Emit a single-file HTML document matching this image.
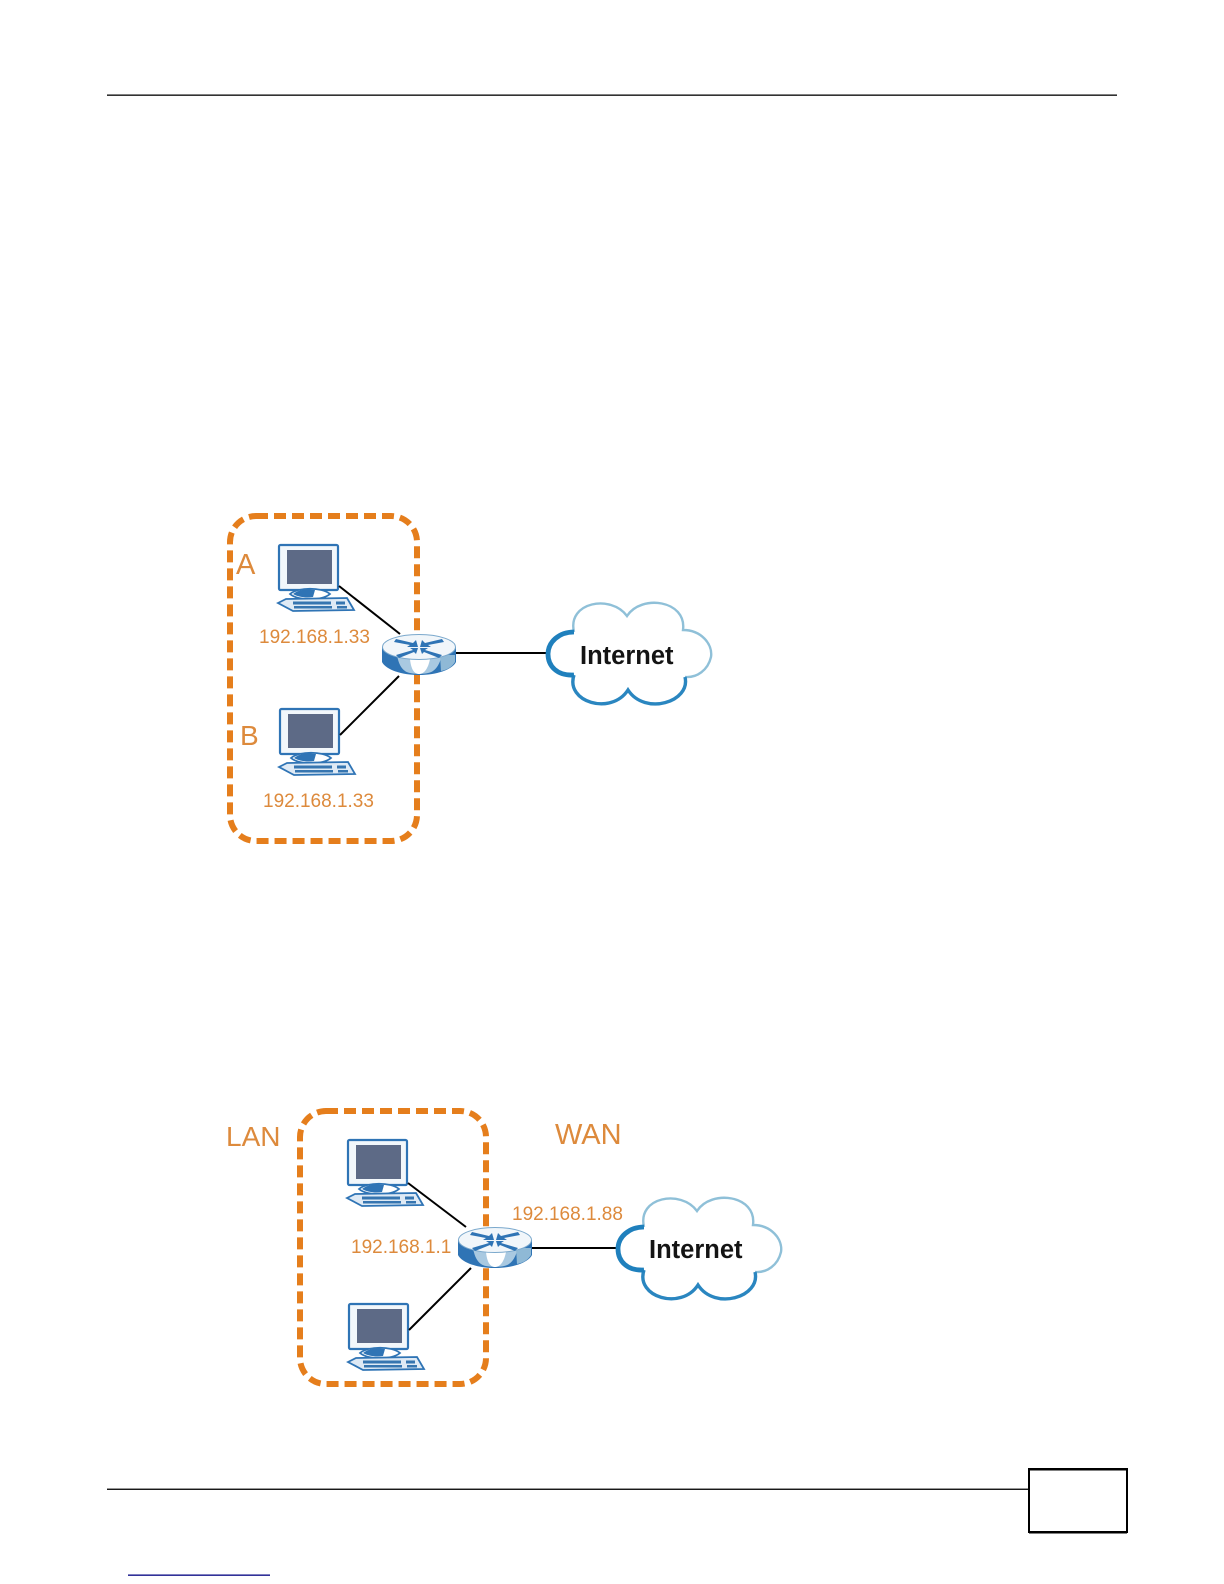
<!DOCTYPE html>
<html>
<head>
<meta charset="utf-8">
<style>
html,body{margin:0;padding:0;background:#fff;width:1224px;height:1584px;overflow:hidden}
svg{display:block}
.d{filter:blur(.35px)}
.o{font-family:"Liberation Sans",sans-serif;fill:#dd8a3c}
.b{font-family:"Liberation Sans",sans-serif;font-weight:bold;font-size:25.5px;fill:#141414}
</style>
</head>
<body>
<svg width="1224" height="1584" viewBox="0 0 1224 1584" xmlns="http://www.w3.org/2000/svg">
<defs>
<g id="pc">
  <rect x="1" y="1" width="59" height="45" rx="1.5" fill="#f2f7fb" stroke="#2f74b5" stroke-width="2.2"/>
  <rect x="9" y="6" width="45" height="34" fill="#5d6a86"/>
  <path d="M12 50 C20 43,44 43,52 50 C44 57,20 57,12 50Z" fill="#fff" stroke="#2f74b5" stroke-width="1.8"/>
  <path d="M15 50 C21 45,30 45,37 46 L35 53 C27 54,20 53,15 50Z" fill="#2f74b5"/>
  <path d="M0 59 L8 55 L69 54 L76 66 L15 67Z" fill="#dfeaf5" stroke="#2f74b5" stroke-width="1.8"/>
  <path d="M15 57.5 H53 V60.5 H15Z M16 62 H54 V64.5 H16Z M58 57.5 H67 V60.5 H58Z M59 62 H69 V64.5 H59Z" fill="#3675b0"/>
</g>
<g id="router">
  <path d="M0 12 V27 C4 35,20 40,37 40 C54 40,70 35,74 27 V12Z" fill="#2f74b5"/>
  <path d="M15 20 C17 32,22 37,28 38 C33 39,42 39,46 38 C52 37,57 32,60 20Z" fill="#a9c9e1"/>
  <path d="M28 24 C29 34,32 39,37 39 C42 39,46 34,48 24Z" fill="#fff"/>
  <path d="M58 20 H73 V27 C70 32,65 35,59 36Z" fill="#8fb9d6"/>
  <ellipse cx="37" cy="12" rx="36.5" ry="12.5" fill="#f1f6fa" stroke="#7aa8cc" stroke-width="1"/>
  <path d="M14 4 L31 8 L34 5 L36 12 L25 12 L28 10 L12 7Z M60 4 L43 8 L40 5 L38 12 L49 12 L46 10 L62 7Z M14 20 L31 15 L28 13 L36 13 L34 19 L32 17 L17 23Z M60 20 L43 15 L46 13 L38 13 L40 19 L42 17 L57 23Z" fill="#2f74b5"/>
</g>
<g id="cloud">
  <path d="M29 30 C22 0,66 -8,82 14 C96 -8,142 -2,138 28 C156 28,168 42,166 55 C163 68,152 76,140 75 C146 100,100 114,83 88 C66 114,20 100,29 73 C12 74,3 64,3 52 C3 40,14 30,29 30Z" fill="#fff"/>
  <path d="M29 30 C22 0,66 -8,82 14 C96 -8,142 -2,138 28 C156 28,168 42,166 55 C163 68,152 76,140 75" fill="none" stroke="#8fc0d8" stroke-width="2.4"/>
  <path d="M140 75 C146 100,100 114,83 88 C66 114,20 100,29 73" fill="none" stroke="#2a86c0" stroke-width="3.4"/>
  <path d="M29 73 C12 74,3 64,3 52 C3 40,14 30,29 30" fill="none" stroke="#1f80bd" stroke-width="4.8"/>
</g>
</defs>

<!-- header and footer rules -->
<rect x="107" y="94.5" width="1010" height="1.3" fill="#000"/>
<rect x="107" y="1488.6" width="922" height="1.3" fill="#000"/>
<rect x="1029" y="1469" width="98" height="63" fill="#fff" stroke="#000" stroke-width="2"/>
<rect x="1029" y="1468" width="98" height="2.5" fill="#000"/>
<rect x="1029" y="1531" width="98" height="2.5" fill="#000"/>
<rect x="128" y="1574.5" width="142" height="1.3" fill="#000080"/>

<!-- diagram 1 -->
<g class="d">
<rect x="230" y="516" width="187" height="325" rx="26" fill="none" stroke="#e57e1c" stroke-width="6" stroke-dasharray="12 6"/>
<use href="#pc" x="278" y="544"/>
<use href="#pc" x="279" y="708"/>
<path d="M339 586 L400 634 M340 735 L399 676 M450 653 H548" stroke="#000" stroke-width="2" fill="none"/>
<use href="#router" x="382" y="635"/>
<use href="#cloud" x="545" y="602"/>
<text class="b" x="580" y="664">Internet</text>
<text class="o" x="236" y="574" font-size="29">A</text>
<text class="o" x="240" y="745" font-size="28">B</text>
<text class="o" x="259" y="643" font-size="19">192.168.1.33</text>
<text class="o" x="263" y="807" font-size="19">192.168.1.33</text>

<!-- diagram 2 -->
<rect x="300" y="1111" width="186" height="273" rx="26" fill="none" stroke="#e57e1c" stroke-width="6" stroke-dasharray="12 6"/>
<use href="#pc" x="347" y="1139"/>
<use href="#pc" x="348" y="1303"/>
<path d="M408 1183 L466 1227 M409 1330 L471 1268 M528 1248 H618" stroke="#000" stroke-width="2" fill="none"/>
<use href="#router" x="458" y="1228"/>
<use href="#cloud" x="615" y="1197"/>
<text class="b" x="649" y="1258">Internet</text>
<text class="o" x="226" y="1146" font-size="28">LAN</text>
<text class="o" x="555" y="1144" font-size="29">WAN</text>
<text class="o" x="351" y="1253" font-size="19">192.168.1.1</text>
<text class="o" x="512" y="1220" font-size="19">192.168.1.88</text>
</g>
</svg>
</body>
</html>
